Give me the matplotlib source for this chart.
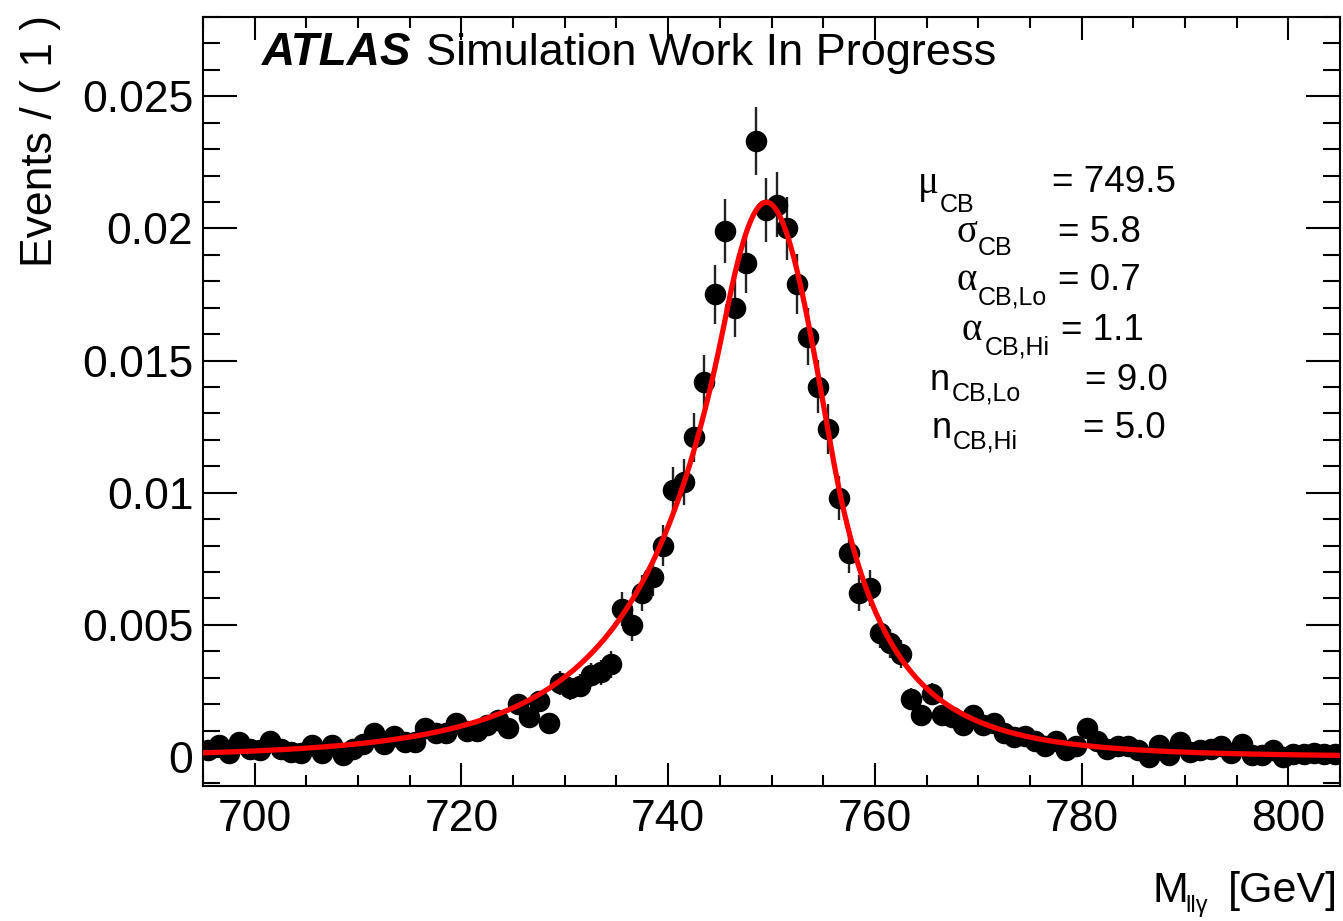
import numpy as np
import matplotlib
matplotlib.use("Agg")
import matplotlib.pyplot as plt
from matplotlib.ticker import MultipleLocator, FuncFormatter

plt.rcParams['font.family'] = ['Liberation Sans', 'DejaVu Sans']

# binned signal MC, 1 GeV bins from 695 to 805 GeV
bin_lo = 695
bin_hi = 805
events = [
    0.00025, 0.00044, 0.00014, 0.00057, 0.00030, 0.00025, 0.00060, 0.00030, 0.00020, 0.00014,
    0.00044, 0.00014, 0.00044, 0.00006, 0.00030, 0.00050, 0.00090, 0.00050, 0.00080, 0.00057,
    0.00057, 0.00110, 0.00090, 0.00090, 0.00130, 0.00100, 0.00100, 0.00120, 0.00140, 0.00110,
    0.00200, 0.00150, 0.00210, 0.00130, 0.00280, 0.00260, 0.00270, 0.00310, 0.00320, 0.00350,
    0.00560, 0.00500, 0.00620, 0.00680, 0.00800, 0.01010, 0.01040, 0.01210, 0.01420, 0.01750,
    0.01990, 0.01700, 0.01870, 0.02330, 0.02070, 0.02090, 0.02000, 0.01790, 0.01590, 0.01400,
    0.01240, 0.00980, 0.00770, 0.00620, 0.00640, 0.00470, 0.00430, 0.00390, 0.00220, 0.00160,
    0.00240, 0.00160, 0.00150, 0.00120, 0.00160, 0.00120, 0.00130, 0.00090, 0.00075, 0.00080,
    0.00060, 0.00040, 0.00060, 0.00025, 0.00040, 0.00110, 0.00060, 0.00030, 0.00040, 0.00040,
    0.00025, 0.00000, 0.00044, 0.00006, 0.00057, 0.00020, 0.00025, 0.00030, 0.00040, 0.00014,
    0.00050, 0.00006, 0.00006, 0.00025, 0.00000, 0.00010, 0.00010, 0.00015, 0.00010, 0.00010,
]
# per-event weight of the MC sample, sets the sqrt(sum w^2) error bars
event_weight = 7.2e-5

# double-sided Crystal Ball fit result
mu_cb = 749.5
sigma_cb = 5.8
alpha_lo = 0.7
alpha_hi = 1.1
n_lo = 9.0
n_hi = 5.0
# fitted signal yield inside the plotted range
n_sig = 0.415


def dscb(x, mu, sigma, a_lo, n_lo, a_hi, n_hi):
    t = (x - mu) / sigma
    out = np.exp(-0.5 * t**2)
    lo = t < -a_lo
    hi = t > a_hi
    A_lo = (n_lo / a_lo)**n_lo * np.exp(-0.5 * a_lo**2)
    B_lo = n_lo / a_lo - a_lo
    A_hi = (n_hi / a_hi)**n_hi * np.exp(-0.5 * a_hi**2)
    B_hi = n_hi / a_hi - a_hi
    out[lo] = A_lo * (B_lo - t[lo])**(-n_lo)
    out[hi] = A_hi * (B_hi + t[hi])**(-n_hi)
    return out


vals = np.array(events)
centers = np.arange(bin_lo, bin_hi) + 0.5
errs = np.sqrt(vals * event_weight)

# curve scaled to the yield per 1 GeV bin
xf = np.linspace(bin_lo, bin_hi, 2000)
shape = dscb(xf, mu_cb, sigma_cb, alpha_lo, n_lo, alpha_hi, n_hi)
norm = n_sig * 1.0 / np.trapezoid(shape, xf)

fig = plt.figure(figsize=(13.43, 9.21), dpi=100)
ax = fig.add_axes([203 / 1343, 1 - 786 / 921, 1137 / 1343, 769 / 921])

ax.errorbar(centers, vals, yerr=errs, fmt='o', color='black', ecolor='#222222',
            elinewidth=1.7, markersize=14.5, capsize=0, zorder=2)
ax.plot(xf, norm * shape, color='red', lw=3.8, zorder=3)

ax.set_xlim(bin_lo, bin_hi)
ax.set_ylim(-0.0011, 0.028)

ax.xaxis.set_major_locator(MultipleLocator(20))
ax.xaxis.set_minor_locator(MultipleLocator(5))
ax.yaxis.set_major_locator(MultipleLocator(0.005))
ax.yaxis.set_minor_locator(MultipleLocator(0.001))
ax.yaxis.set_major_formatter(FuncFormatter(lambda v, p: f"{v:g}"))

ax.tick_params(which='both', direction='in', top=True, right=True, width=1.5,
               labelsize=32)
ax.xaxis.set_tick_params(which='major', length=16.5, pad=9)
ax.xaxis.set_tick_params(which='minor', length=8)
ax.yaxis.set_tick_params(which='major', length=24.5, pad=7)
ax.yaxis.set_tick_params(which='minor', length=12)
for sp in ax.spines.values():
    sp.set_linewidth(1.5)


def px(x, y):
    return x / 1343, 1 - y / 921


# axis titles
fig.text(*px(52, 15), "Events / ( 1 )", rotation=90, rotation_mode='anchor',
         ha='right', va='baseline', fontsize=32)
fig.text(*px(1152, 902), "M", ha='left', va='baseline', fontsize=31)
fig.text(*px(1185, 912), "llγ", ha='left', va='baseline', fontsize=17)
fig.text(*px(1338, 902), "[GeV]", ha='right', va='baseline', fontsize=31)

# ATLAS label
fig.text(*px(262, 65), "ATLAS", fontsize=33, fontweight='bold', style='italic',
         va='baseline')
fig.text(*px(426, 65), "Simulation Work In Progress", fontsize=32.5, va='baseline')

# fit parameters
greek = ['Liberation Serif', 'DejaVu Serif']
params = [
    ("μ", 918, 193, "CB", 940, 212, "= 749.5", 1052, 192),
    ("σ", 956, 242, "CB", 978, 255, "= 5.8", 1058, 242),
    ("α", 956, 290, "CB,Lo", 978, 305, "= 0.7", 1058, 290),
    ("α", 962, 340, "CB,Hi", 985, 354, "= 1.1", 1061, 340),
    ("n", 930, 390, "CB,Lo", 952, 400, "= 9.0", 1085, 390),
    ("n", 932, 438, "CB,Hi", 953, 448, "= 5.0", 1083, 438),
]
for sym, sx, sy, sub, bx, by, val, vx, vy in params:
    fam = ['Liberation Sans'] if sym == "n" else greek
    size = 26 if sym == "n" else 28
    fig.text(*px(sx, sy), sym, family=fam, fontsize=size, va='baseline')
    fig.text(*px(bx, by), sub, fontsize=18, va='baseline')
    fig.text(*px(vx, vy), val, fontsize=26.5, va='baseline')

fig.savefig("out.png", dpi=100)
